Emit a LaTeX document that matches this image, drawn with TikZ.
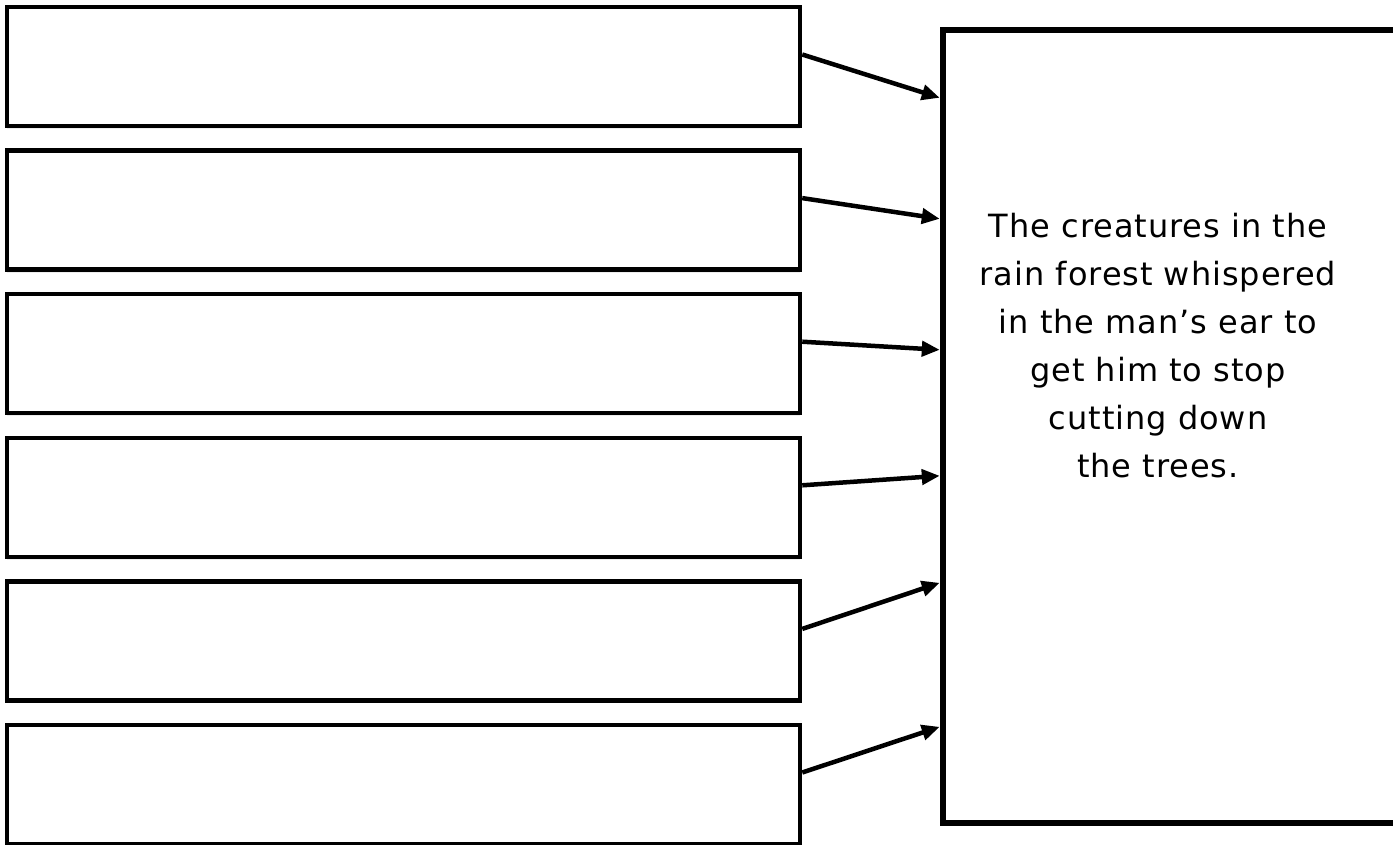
\documentclass[tikz,border=0pt]{standalone}
\usepackage{fontspec}
\setmainfont{DejaVu Sans}
\usetikzlibrary{arrows.meta, shadows}

\begin{document}
\begin{tikzpicture}[x=1pt, y=-1pt, >={Triangle[length=18pt, width=15pt]},
  blank/.style={draw, line width=4.5pt, fill=white, minimum width=793pt,
    minimum height=119pt, inner sep=0pt,
    drop shadow={shadow xshift=0pt, shadow yshift=-3pt, opacity=0.15}},
  storybox/.style={minimum width=560pt, minimum height=793pt, inner sep=0pt},
  frame/.style={line width=6pt, line cap=rect},
  link/.style={->, line width=4.5pt}]
\useasboundingbox (0,0) rectangle (1393,844);
\clip (0,0) rectangle (1393,844);

% Empty answer boxes on the left
\foreach \i in {1,...,6} {
  \node[blank] (box\i) at (403.5, {66.5+143.6*(\i-1)}) {};
}

% Big box on the right (its right side runs off the page)
\node[storybox] (story) at (1223, 426.5) {};
\draw[frame] (story.north east) -- (story.north west) -- (story.south west)
  -- (story.south east);
\node[align=center, font=\fontsize{32}{48}\selectfont\addfontfeature{LetterSpace=3}]
  (storytext) at (1158, 346)
  {The creatures in the\\ rain forest whispered\\ in the man’s ear to\\
   get him to stop\\ cutting down\\ the trees.};

% Arrows into the big box
\foreach \i/\d in {1/68, 2/189, 3/320, 4/446, 5/553, 6/697} {
  \draw[link] ([yshift=12pt]box\i.east) -- ([xshift=-3pt, yshift=-\d pt]story.north west);
}

\end{tikzpicture}
\end{document}
